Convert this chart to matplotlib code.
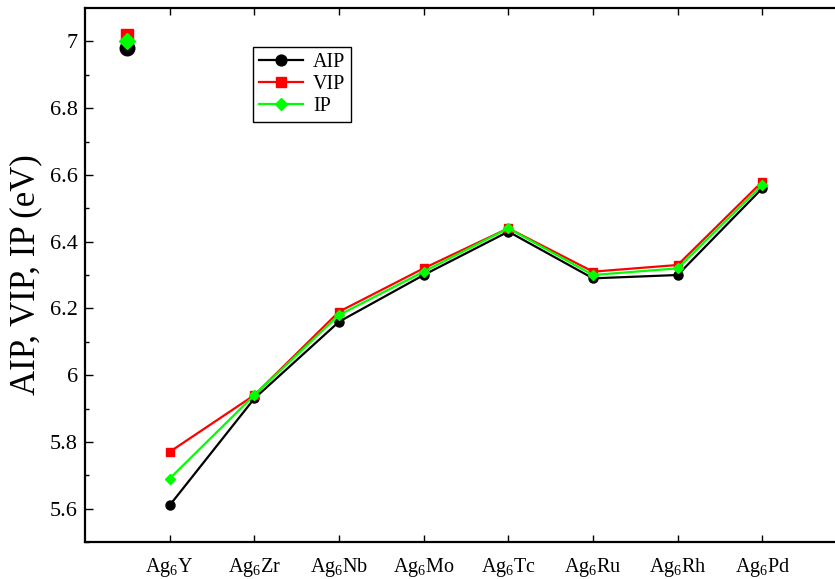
import matplotlib
matplotlib.use("Agg")
import matplotlib.pyplot as plt
import numpy as np

plt.rcParams['font.family'] = ['Liberation Serif', 'DejaVu Serif']
plt.rcParams['mathtext.fontset'] = 'custom'
plt.rcParams['mathtext.rm'] = 'Liberation Serif'
plt.rcParams['mathtext.it'] = 'Liberation Serif:italic'

# dados
rotulos = ["Ag$_6$Y", "Ag$_6$Zr", "Ag$_6$Nb", "Ag$_6$Mo",
           "Ag$_6$Tc", "Ag$_6$Ru", "Ag$_6$Rh", "Ag$_6$Pd"]
aip = [5.61, 5.93, 6.16, 6.30, 6.43, 6.29, 6.30, 6.56]
vip = [5.77, 5.94, 6.19, 6.32, 6.44, 6.31, 6.33, 6.58]
ip = [5.69, 5.94, 6.18, 6.31, 6.44, 6.30, 6.32, 6.57]

# ponto isolado (Ag6 puro)
aip_ag6 = 6.98
vip_ag6 = 7.02
ip_ag6 = 7.00

x = np.arange(1, len(rotulos) + 1)

fig = plt.figure(figsize=(8.35, 5.79), dpi=100)
ax = fig.add_axes([85/835, 1 - 542/579, 762/835, 534/579])

ax.plot(x, aip, "-o", color="black", lw=1.6, markersize=6.5, label="AIP")
ax.plot(x, vip, "-s", color="#ff0000", lw=1.6, markersize=6, label="VIP")
ax.plot(x, ip, "-D", color="#00ff00", lw=1.6, markersize=5, label="IP")

ax.plot([0.5], [aip_ag6], "o", color="black", markersize=10.5)
ax.plot([0.5], [vip_ag6], "s", color="#ff0000", markersize=9)
ax.plot([0.5], [ip_ag6], "D", color="#00ff00", markersize=8)

ax.set_xlim(0, 9)
ax.set_ylim(5.5, 7.1)
ax.set_xticks(x)
ax.set_xticklabels(rotulos, fontsize=14.5)
ax.set_yticks([5.6, 5.8, 6.0, 6.2, 6.4, 6.6, 6.8, 7.0])
ax.set_yticklabels(["5.6", "5.8", "6", "6.2", "6.4", "6.6", "6.8", "7"], fontsize=16)
ax.set_yticks(np.arange(5.5, 7.1, 0.1), minor=True)
ax.tick_params(axis="x", direction="in", top=True, length=5, width=1, pad=10)
ax.tick_params(axis="y", which="major", direction="in", length=6, width=1, pad=5)
ax.tick_params(axis="y", which="minor", direction="in", length=3, width=1)
for s in ax.spines.values():
    s.set_linewidth(1.6)

ax.set_ylabel("AIP, VIP, IP (eV)", fontsize=25, labelpad=6)

leg = ax.legend(loc="upper left", bbox_to_anchor=(0.22, 0.927), fontsize=14.5,
                fancybox=False, framealpha=1, edgecolor="black",
                borderpad=0.3, labelspacing=0.15, handlelength=2.2,
                handletextpad=0.5, borderaxespad=0, markerscale=1.2)
leg.get_frame().set_linewidth(1.0)

fig.savefig("out.png", dpi=100)
